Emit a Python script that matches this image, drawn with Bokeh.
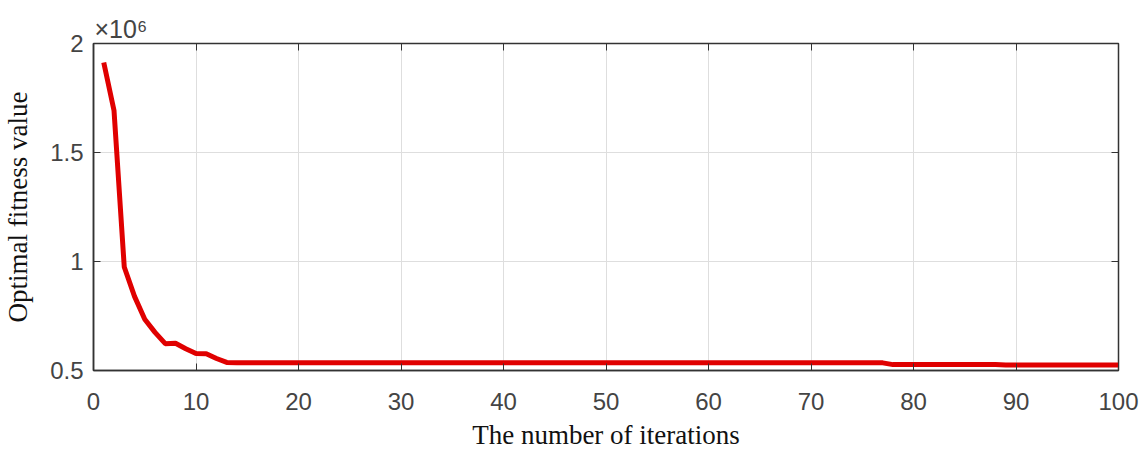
from bokeh.plotting import figure
from bokeh.models import LinearAxis, Title, FixedTicker, CustomJSTickFormatter, Range1d
from bokeh.embed import file_html
from bokeh.resources import INLINE

iterations = list(range(1, 101))
fitness = ([1.913e6, 1.693e6, 0.975e6, 0.840e6, 0.735e6, 0.675e6, 0.623e6,
            0.625e6, 0.600e6, 0.578e6, 0.577e6, 0.555e6, 0.537e6]
           + [0.535e6] * 64
           + [0.527e6] * 11
           + [0.525e6] * 12)
x_ticks = [0, 10, 20, 30, 40, 50, 60, 70, 80, 90, 100]
y_ticks = [0.5e6, 1.0e6, 1.5e6, 2.0e6]

p = figure(width=1140, height=452, output_backend="svg", toolbar_location=None,
           x_range=Range1d(0, 100), y_range=Range1d(0.5e6, 2.0e6),
           min_border_left=92, min_border_right=22, min_border_top=43, min_border_bottom=81)
p.background_fill_color = "white"
p.border_fill_color = "white"
p.outline_line_color = "#333333"
p.outline_line_width = 1.5

p.line(iterations, fitness, line_color="#e00000", line_width=5)

fmt = CustomJSTickFormatter(code="return (tick/1e6).toString();")
blank = CustomJSTickFormatter(code="return '';")

for ax in (p.xaxis[0], p.yaxis[0]):
    ax.axis_line_color = "#333333"
    ax.axis_line_width = 1.5
    ax.major_tick_in = 7
    ax.major_tick_out = 0
    ax.minor_tick_line_color = None
    ax.major_tick_line_color = "#333333"
    ax.major_label_text_font = "Liberation Sans"
    ax.major_label_text_font_size = "24px"
    ax.major_label_text_color = "#444444"
    ax.axis_label_text_font = "Liberation Serif"
    ax.axis_label_text_font_size = "27px"
    ax.axis_label_text_font_style = "normal"
    ax.axis_label_text_color = "#111111"

p.xaxis[0].ticker = FixedTicker(ticks=x_ticks)
p.yaxis[0].ticker = FixedTicker(ticks=y_ticks)
p.yaxis[0].formatter = fmt
p.xaxis[0].axis_label = "The number of iterations"
p.yaxis[0].axis_label = "Optimal fitness value"
p.xaxis[0].major_label_standoff = 22
p.yaxis[0].major_label_standoff = 10
p.xaxis[0].axis_label_standoff = 7
p.yaxis[0].axis_label_standoff = 14

top = LinearAxis(ticker=FixedTicker(ticks=x_ticks), formatter=blank,
                 major_tick_in=7, major_tick_out=0, minor_tick_line_color=None,
                 axis_line_color="#333333", major_tick_line_color="#333333", major_label_standoff=0)
right = LinearAxis(ticker=FixedTicker(ticks=y_ticks), formatter=blank,
                   major_tick_in=7, major_tick_out=0, minor_tick_line_color=None,
                   axis_line_color="#333333", major_tick_line_color="#333333", major_label_standoff=0)
p.add_layout(top, "above")
p.add_layout(right, "right")

p.xgrid.ticker = FixedTicker(ticks=x_ticks)
p.ygrid.ticker = FixedTicker(ticks=y_ticks)
p.grid.grid_line_color = "#dedede"
p.grid.grid_line_width = 1

p.add_layout(Title(text="×10⁶", align="left", offset=1, standoff=2,
                   text_font="Liberation Sans", text_font_size="25px",
                   text_font_style="normal", text_color="#444444"), "above")

open("out.html", "w").write(file_html(p, INLINE))
